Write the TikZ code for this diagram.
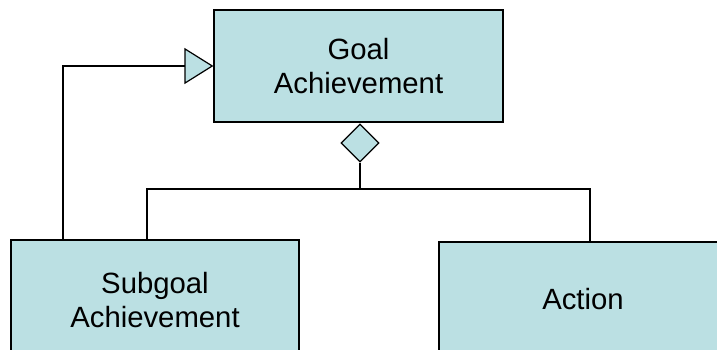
\documentclass[tikz,border=0pt]{standalone}
\usepackage{fontspec}
\setmainfont{Liberation Sans}
\usetikzlibrary{arrows.meta,shapes.geometric}
\definecolor{boxfill}{RGB}{187,224,227}
\begin{document}
\begin{tikzpicture}[x=1pt,y=-1pt,
  box/.style={draw=black, fill=boxfill, line width=1.2pt, rectangle, inner sep=0pt, align=center,
    font=\fontsize{29.3}{34.5}\selectfont},
  conn/.style={draw=black, line width=1.2pt},
  agg/.style={draw=black, fill=boxfill, line width=1.2pt, diamond, minimum width=38pt, minimum height=38pt, inner sep=0pt}]
\clip (0,0) rectangle (717,350);
\fill[white] (0,0) rectangle (717,350);
\node[box, minimum width=289pt, minimum height=112pt] (goal) at (358.5,66) {Goal\\Achievement};
\node[box, minimum width=288pt, minimum height=120pt] (sub) at (155,300) {Subgoal\\Achievement};
\node[box, minimum width=288pt, minimum height=114pt] (act) at (583,299) {Action};
\node[agg] (dia) at (360,143) {};
\coordinate (j) at (360,189);
\coordinate (sl) at (147,189);
\coordinate (ar) at (590,189);
\draw[conn, -{Triangle[length=29pt, width=36pt, fill=boxfill, line width=1.2pt]}]
  ([xshift=-92pt]sub.north) -- ([xshift=-92pt]sub.north |- goal.west) -- (goal.west);
\draw[conn] (dia.south) -- (j);
\draw[conn] (sub.north -| sl) -- (sl) -- (ar) -- (act.north -| ar);
\end{tikzpicture}
\end{document}
